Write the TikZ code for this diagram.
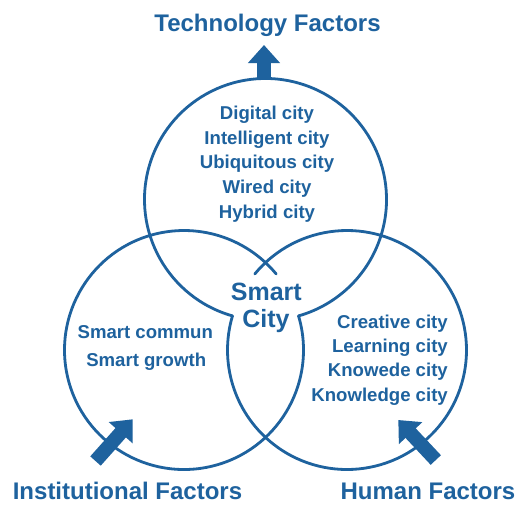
\documentclass[tikz,border=0pt]{standalone}
\usepackage{fontspec}
\setmainfont{Liberation Sans}
\usetikzlibrary{arrows.meta}
\definecolor{vblue}{RGB}{30,98,158}
\begin{document}
\begin{tikzpicture}[x=1pt,y=-1pt,
  ring/.style={draw=vblue, line width=2.8pt, line cap=round},
  bigarrow/.style={draw=vblue, fill=vblue, line width=14pt, -{Triangle[width=31pt,length=18pt]}},
  titletext/.style={text=vblue, font=\fontsize{24}{28}\selectfont\bfseries, anchor=base, inner sep=0pt},
  itemtext/.style={text=vblue, font=\fontsize{18.6}{22}\selectfont\bfseries, anchor=base, inner sep=0pt},
  itemright/.style={itemtext, anchor=base east},
  centertext/.style={text=vblue, font=\fontsize{25}{30}\selectfont\bfseries, anchor=base, inner sep=0pt}]
\useasboundingbox (0,0) rectangle (529,504);
\fill[white] (0,0) rectangle (529,504);
% circle centres
\coordinate (T) at (265.5,199.5);
\coordinate (L) at (184,350);
\coordinate (R) at (347,350);
% circles with the central region left open
\draw[ring] (T) ++(105.83:121) arc[start angle=105.83, end angle=434.17, radius=121];
\draw[ring] (L) ++(-16.58:119.5) arc[start angle=-16.58, end angle=320.5, radius=119.5];
\draw[ring] (R) ++(219.5:119.5) arc[start angle=219.5, end angle=556.58, radius=119.5];
% arrows
\coordinate (ta0) at (264,79);
\coordinate (ta1) at (264,45);
\coordinate (la0) at (95.5,461);
\coordinate (la1) at (132.7,419.3);
\coordinate (ra0) at (435.8,460);
\coordinate (ra1) at (398.3,420);
\draw[bigarrow] (ta0) -- (ta1);
\draw[bigarrow] (la0) -- (la1);
\draw[bigarrow] (ra0) -- (ra1);
% titles
\node[titletext] (tech) at (267.5,31.5) {Technology Factors};
\node[titletext] (inst) at (127.5,499) {Institutional Factors};
\node[titletext] (hum) at (428,499) {Human Factors};
% technology items
\node[itemtext] (t1) at (267,119.3) {Digital city};
\node[itemtext] (t2) at (267,144) {Intelligent city};
\node[itemtext] (t3) at (267,168.6) {Ubiquitous city};
\node[itemtext] (t4) at (267,193.4) {Wired city};
\node[itemtext] (t5) at (267,218.2) {Hybrid city};
% centre
\node[centertext] (c1) at (266.3,300) {Smart};
\node[centertext] (c2) at (266,327.3) {City};
% institutional items
\node[itemtext] (i1) at (145.3,338.3) {Smart commun};
\node[itemtext] (i2) at (146.2,366) {Smart growth};
% human items
\node[itemright] (h1) at (448,328.3) {Creative city};
\node[itemright] (h2) at (448,352.7) {Learning city};
\node[itemright] (h3) at (448,376.8) {Knowede city};
\node[itemright] (h4) at (448,401) {Knowledge city};
\end{tikzpicture}
\end{document}
